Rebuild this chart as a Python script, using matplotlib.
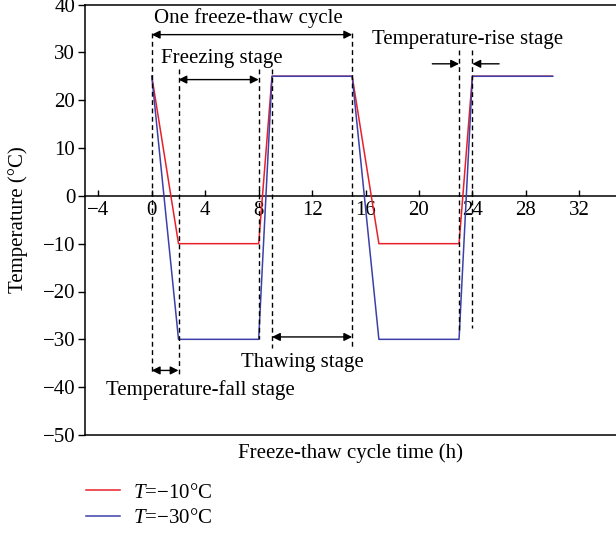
import matplotlib.pyplot as plt

# one freeze-thaw programme, two target temperatures
time_h = [0, 2, 8, 9, 15, 17, 23, 24, 30]
temp_m10 = [25, -10, -10, 25, 25, -10, -10, 25, 25]
temp_m30 = [25, -30, -30, 25, 25, -30, -30, 25, 25]
labels = ["$T$=\u221210\u00b0C", "$T$=\u221230\u00b0C"]
x_ticks = [-4, 0, 4, 8, 12, 16, 20, 24, 28, 32]
y_ticks = [-50, -40, -30, -20, -10, 0, 10, 20, 30, 40]

C_RED = "#e8202a"
C_BLUE = "#3c40a8"

plt.rcParams.update({
    "font.family": "Liberation Serif",
    "font.size": 15,
    "mathtext.fontset": "custom",
    "mathtext.rm": "Liberation Serif",
    "mathtext.it": "Liberation Serif:italic",
    "axes.linewidth": 1.1,
})

fig = plt.figure(figsize=(6.16, 5.35), dpi=100)
ax = fig.add_axes([85 / 616, 100 / 535, 1 - 85 / 616, 430.5 / 535])

ax.plot(time_h, temp_m10, color=C_RED, lw=1.1, label=labels[0], zorder=3)
ax.plot(time_h, temp_m30, color=C_BLUE, lw=1.1, label=labels[1], zorder=3)

ax.set_xlim(-5, 34.75)
ax.set_ylim(-50, 40)

# x axis runs through zero, box drawn around
ax.spines["bottom"].set_position(("data", 0))
ax.spines["right"].set_visible(False)
ax.axhline(-50, color="black", lw=1.1, clip_on=False, zorder=5)
ax.set_xticks(x_ticks)
ax.set_yticks(y_ticks)
ax.tick_params(axis="x", direction="in", length=4.3, width=1, pad=4)
ax.tick_params(axis="y", direction="out", length=5, width=1, pad=2)

ax.set_xlabel("Freeze-thaw cycle time (h)")
ax.xaxis.set_label_coords(0.5, -0.02)
ax.set_ylabel("Temperature (\u00b0C)")
ax.yaxis.set_label_coords(-0.107, 0.5)

# stage guides
dash = dict(color="black", lw=1.0, ls=(0, (3.5, 2.5)), zorder=4)
for x, y0, y1 in [(0, 34, -37.2), (2, 26.5, -37.2), (8, 26.5, -30),
                  (9, 26.5, -31.8), (15, 34, -31.8), (23, 30.5, -28.5),
                  (24, 30.5, -27.7)]:
    ax.plot([x, x], [y0, y1], **dash)

two = dict(arrowstyle="<|-|>", color="black", lw=1.0, mutation_scale=12,
           shrinkA=0, shrinkB=0)
one = dict(arrowstyle="-|>", color="black", lw=1.0, mutation_scale=12,
           shrinkA=0, shrinkB=0)
ax.annotate("", xy=(15, 33.7), xytext=(0, 33.7), arrowprops=two)
ax.annotate("", xy=(8, 24.3), xytext=(2, 24.3), arrowprops=two)
ax.annotate("", xy=(15, -29.5), xytext=(9, -29.5), arrowprops=two)
ax.annotate("", xy=(2, -36.5), xytext=(0, -36.5), arrowprops=two)
ax.annotate("", xy=(23, 27.6), xytext=(21, 27.6), arrowprops=one)
ax.annotate("", xy=(24, 27.6), xytext=(26, 27.6), arrowprops=one)

ax.text(7.25, 37.2, "One freeze-thaw cycle", ha="center", va="center")
ax.text(5.27, 28.8, "Freezing stage", ha="center", va="center")
ax.text(23.65, 32.6, "Temperature-rise stage", ha="center", va="center")
ax.text(11.3, -34.9, "Thawing stage", ha="center", va="center")
ax.text(3.6, -40.7, "Temperature-fall stage", ha="center", va="center")

fig.legend(loc="upper left", bbox_to_anchor=(86 / 616, 1 - 483 / 535),
           frameon=False, handlelength=1.63, handletextpad=0.63,
           labelspacing=0.3, borderaxespad=0, borderpad=0)

fig.savefig("out.png", dpi=100, facecolor="white")
